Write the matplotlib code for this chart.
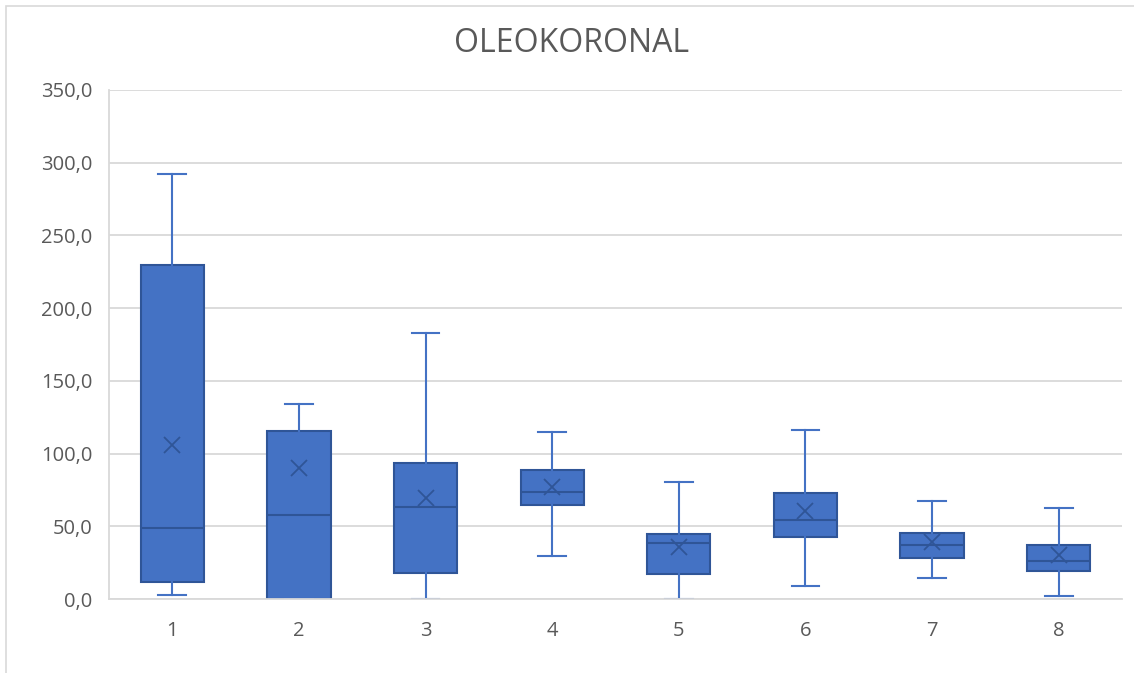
import matplotlib.pyplot as plt
from matplotlib.patches import Rectangle
from matplotlib.ticker import FuncFormatter, MultipleLocator

# values (five-number summary + mean per group)
groups = ['1', '2', '3', '4', '5', '6', '7', '8']
whisker_low = [2.8, 0.0, 0.0, 29.6, 0.0, 8.7, 14.5, 2.1]
q1 = [11.9, 0.0, 18.1, 64.5, 17.2, 42.5, 28.2, 19.3]
median = [48.7, 57.9, 63.2, 73.5, 38.6, 54.0, 37.4, 26.0]
q3 = [229.4, 115.8, 93.5, 88.4, 44.6, 72.8, 45.7, 37.4]
whisker_high = [292.1, 134.4, 183.0, 115.1, 80.4, 116.0, 67.7, 62.5]
mean = [106.1, 90.0, 69.4, 76.9, 36.1, 60.2, 39.0, 30.3]

fill = '#4472C4'
edge = '#2F5597'
grey = '#595959'

plt.rcParams['font.family'] = ['Open Sans', 'DejaVu Sans']

fig = plt.figure(figsize=(11.34, 6.73), dpi=100)
ax = fig.add_axes([109 / 1134, 1 - 599 / 673, 1013 / 1134, 509 / 673])

stats = []
for i, g in enumerate(groups):
    stats.append({'label': g, 'whislo': whisker_low[i], 'q1': q1[i], 'med': median[i],
                  'q3': q3[i], 'whishi': whisker_high[i], 'mean': mean[i], 'fliers': []})

ax.bxp(stats, positions=range(1, len(groups) + 1), widths=0.5, patch_artist=True,
       showmeans=True, showfliers=False,
       boxprops=dict(facecolor=fill, edgecolor=edge, linewidth=1.5),
       medianprops=dict(color=edge, linewidth=1.5),
       whiskerprops=dict(color=fill, linewidth=1.5),
       capprops=dict(color=fill, linewidth=1.5),
       capwidths=0.22,
       meanprops=dict(marker='x', markeredgecolor=edge, markersize=11, markeredgewidth=1.3))

ax.set_xlim(0.5, 8.5)
ax.set_ylim(0, 350)
ax.yaxis.set_major_locator(MultipleLocator(50))
ax.yaxis.set_major_formatter(FuncFormatter(lambda v, p: f'{v:.1f}'.replace('.', ',')))
ax.grid(axis='y', color='#D9D9D9', linewidth=1.3, zorder=0)
ax.set_axisbelow(True)

for s in ['top', 'right']:
    ax.spines[s].set_visible(False)
ax.spines['left'].set_color('#D9D9D9')
ax.spines['bottom'].set_color('#D9D9D9')
ax.spines['left'].set_linewidth(1.3)
ax.spines['bottom'].set_linewidth(1.3)
ax.tick_params(axis='both', length=0, labelsize=14.5, colors=grey)
ax.tick_params(axis='y', pad=12)
ax.tick_params(axis='x', pad=16)

fig.text(0.504, 1 - 44 / 673, 'OLEOKORONAL', ha='center', va='center', fontsize=23, color=grey)

# chart frame
fig.patches.append(Rectangle((6 / 1134, -0.1), 1.2, 1 - 6 / 673 + 0.1, transform=fig.transFigure,
                             fill=False, edgecolor='#D9D9D9', linewidth=1.2))

fig.savefig('out.png', dpi=100)
